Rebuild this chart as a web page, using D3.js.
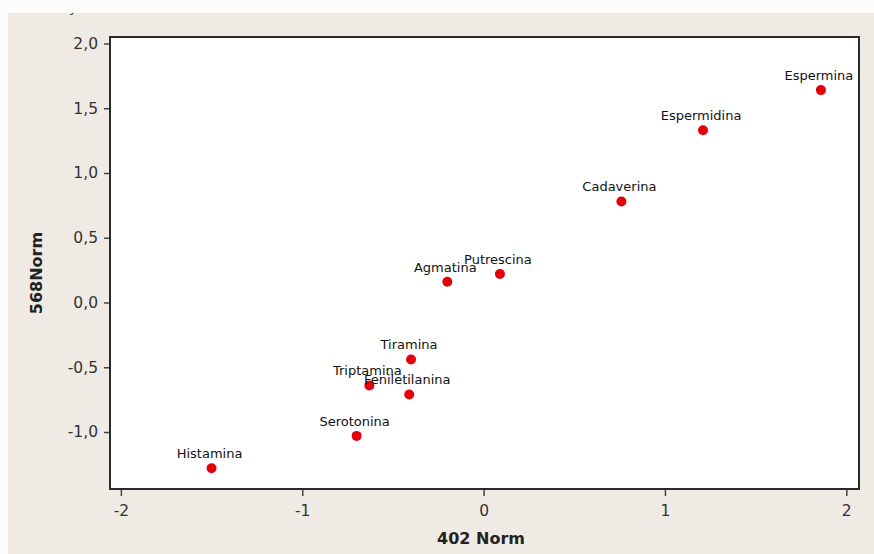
<!DOCTYPE html>
<html>
<head>
<meta charset="utf-8">
<script src="https://cdn.jsdelivr.net/npm/d3@7"></script>
<style>
  body { margin: 0; background: #efebe4; }
  svg { display: block; font-family: "DejaVu Sans", Verdana, sans-serif; }
</style>
</head>
<body>
<div id="chart"></div>
<script>
// Data
var names = ["Histamina", "Serotonina", "Triptamina", "Feniletilanina", "Tiramina",
             "Agmatina", "Putrescina", "Cadaverina", "Espermidina", "Espermina"];
var x402 = [-1.50, -0.70, -0.63, -0.41, -0.40, -0.20, 0.09, 0.76, 1.21, 1.86];
var y568 = [-1.28, -1.03, -0.64, -0.71, -0.44, 0.16, 0.22, 0.78, 1.33, 1.64];
var xTicks = [-2, -1, 0, 1, 2];
var yTicks = [-1.0, -0.5, 0.0, 0.5, 1.0, 1.5, 2.0];

var width = 874, height = 554;
var plot = {left: 110, right: 859, top: 37, bottom: 489};

var svg = d3.select("#chart")
  .append("svg")
  .attr("width", width)
  .attr("height", height);

// background
svg.append("rect")
  .attr("width", width).attr("height", height)
  .attr("fill", "#efebe4");

// cut-off title descender
svg.append("text")
  .attr("x", 73).attr("y", 12)
  .attr("text-anchor", "middle")
  .style("font-size", "13px")
  .attr("fill", "#333")
  .text("y");

// white strips at the top and left edges
svg.append("rect").attr("x", 0).attr("y", 0).attr("width", width).attr("height", 13).attr("fill", "#fcfcfb");
svg.append("rect").attr("x", 0).attr("y", 0).attr("width", 8).attr("height", height).attr("fill", "#fcfcfb");

var x = d3.scaleLinear()
  .domain([-2.06, 2.07])
  .range([plot.left, plot.right]);
var y = d3.scaleLinear()
  .domain([-1.44, 2.05])
  .range([plot.bottom, plot.top]);

// plot area
svg.append("rect")
  .attr("x", plot.left).attr("y", plot.top)
  .attr("width", plot.right - plot.left)
  .attr("height", plot.bottom - plot.top)
  .attr("fill", "#ffffff");

var fmtY = function(d) { return d3.format(".1f")(d).replace(".", ",").replace("−", "-"); };
var fmtX = function(d) { return String(d); };

var xAxis = d3.axisBottom(x).tickValues(xTicks).tickFormat(fmtX).tickSize(7).tickPadding(6);
var yAxis = d3.axisLeft(y).tickValues(yTicks).tickFormat(fmtY).tickSize(6).tickPadding(6);

var gx = svg.append("g")
  .attr("transform", "translate(0," + plot.bottom + ")")
  .call(xAxis);
var gy = svg.append("g")
  .attr("transform", "translate(" + plot.left + ",0)")
  .call(yAxis);

[gx, gy].forEach(function(g) {
  g.select(".domain").remove();
  g.selectAll(".tick line").attr("stroke", "#444").attr("stroke-width", 1.5);
  g.selectAll(".tick text")
    .attr("fill", "#333")
    .style("font-size", "15.5px")
    .style("font-family", "'DejaVu Sans', Verdana, sans-serif");
});
gx.selectAll(".tick text").attr("dy", "0.9em");

// frame
svg.append("rect")
  .attr("x", plot.left).attr("y", plot.top)
  .attr("width", plot.right - plot.left)
  .attr("height", plot.bottom - plot.top)
  .attr("fill", "none")
  .attr("stroke", "#2a2a2a")
  .attr("stroke-width", 2);

// axis titles
svg.append("text")
  .attr("x", 481).attr("y", 544)
  .attr("text-anchor", "middle")
  .style("font-size", "16px")
  .style("font-weight", "bold")
  .attr("fill", "#222")
  .text("402 Norm");

svg.append("text")
  .attr("transform", "translate(42,273) rotate(-90)")
  .attr("text-anchor", "middle")
  .style("font-size", "16px")
  .style("font-weight", "bold")
  .attr("fill", "#222")
  .text("568Norm");

// points and labels
var pts = names.map(function(n, i) { return {name: n, x: x402[i], y: y568[i]}; });

svg.append("g").selectAll("circle")
  .data(pts)
  .enter()
  .append("circle")
  .attr("cx", function(d) { return x(d.x); })
  .attr("cy", function(d) { return y(d.y); })
  .attr("r", 5)
  .attr("fill", "#e3000b");

svg.append("g").selectAll("text")
  .data(pts)
  .enter()
  .append("text")
  .attr("x", function(d) { return x(d.x) - 2; })
  .attr("y", function(d) { return y(d.y) - 10; })
  .attr("text-anchor", "middle")
  .style("font-size", "13px")
  .attr("fill", "#111")
  .text(function(d) { return d.name; });
</script>
</body>
</html>
